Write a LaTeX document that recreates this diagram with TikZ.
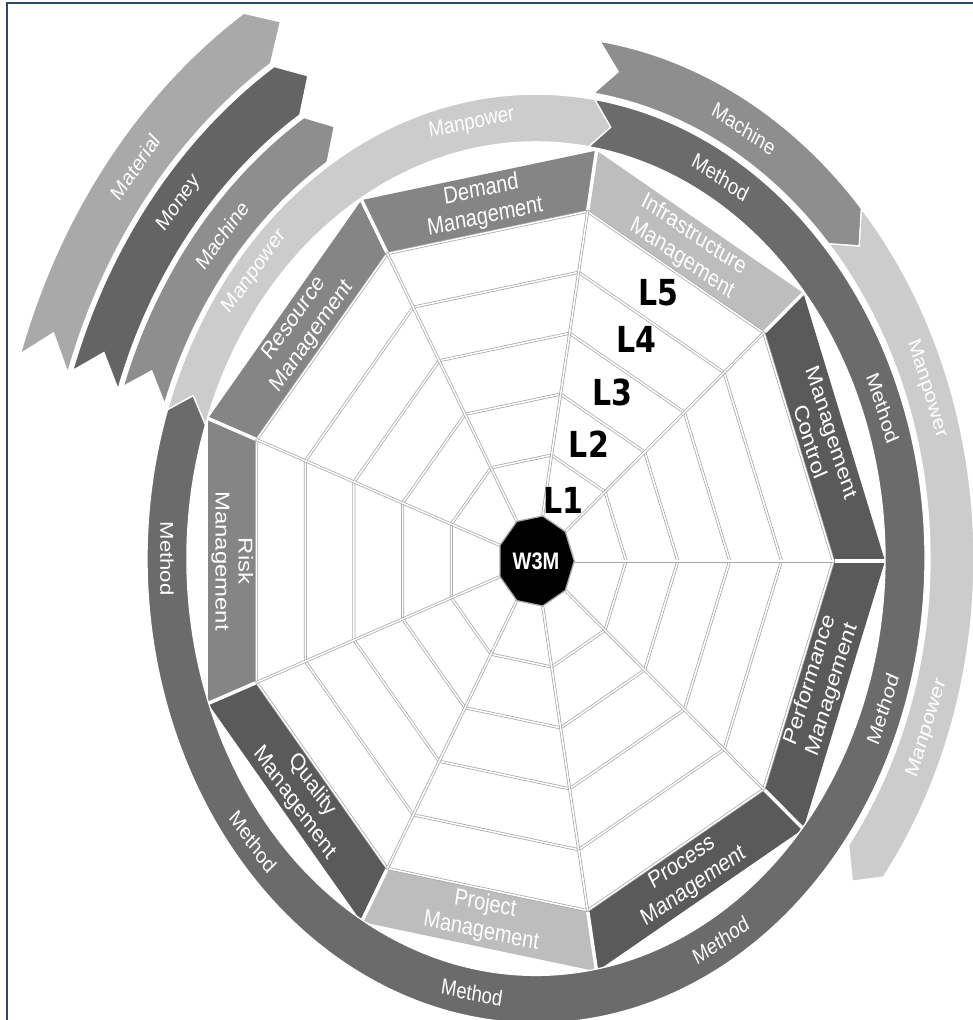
\documentclass[tikz,border=0pt]{standalone}
\usepackage{fontspec}
\setmainfont{Liberation Sans}
\newfontfamily\levelfont{DejaVu Sans}
\definecolor{cMaterial}{HTML}{A9A9A9}
\definecolor{cMoney}{HTML}{646464}
\definecolor{cMachine}{HTML}{8E8E8E}
\definecolor{cManpower}{HTML}{CCCCCC}
\definecolor{cMethod}{HTML}{6B6B6B}
\definecolor{cMid}{HTML}{858585}
\definecolor{cDark}{HTML}{5A5A5A}
\definecolor{cLight}{HTML}{BDBDBD}
\definecolor{cWeb}{HTML}{A8A8A8}
\definecolor{cFrame}{HTML}{2E4A6B}

% curved chevron band: fill, inner radius, outer radius, tail angle, head angle, point depth
\newcommand\chevband[6]{%
  \fill[#1, draw=white, line width=1.3pt, line join=miter]
    (#4:#3) arc[start angle=#4, end angle=#5, radius=#3]
    -- ({#5-#6}:{(#2+#3)/2}) -- (#5:#2)
    arc[start angle=#5, end angle=#4, radius=#2]
    -- ({#4-#6}:{(#2+#3)/2}) -- cycle;}

\tikzset{
  web/.style={draw=cWeb, line width=0.75pt, double=white, double distance=1.5pt, line join=miter},
  bandlabel/.style={text=white, align=center, transform shape,
    font=\fontsize{20}{23}\selectfont, inner sep=0pt},
  ringlabel/.style={text=white, transform shape,
    font=\fontsize{18.5}{20}\selectfont, inner sep=0pt},
  levellabel/.style={text=black, transform shape,
    font=\levelfont\bfseries\fontsize{30}{32}\selectfont, inner sep=0pt},
}

\begin{document}
\begin{tikzpicture}[x=1pt, y=1pt]
\path[use as bounding box, fill=white] (-536pt,-459pt) rectangle (437pt,561pt);
% frame
\draw[cFrame, line width=2pt] (-529pt,-459pt) -- (-529pt,557.5pt) -- (437pt,557.5pt);

\begin{scope}[yscale=1.194]
  % label bands of the nine sectors
  \foreach \a/\col in {0/cDark, 40/cLight, 80/cMid, 120/cMid, 160/cMid,
                        200/cDark, 240/cLight, 280/cDark, 320/cDark} {
    \fill[\col] (\a:349) -- ({\a+40}:349) -- ({\a+40}:297.3) -- (\a:297.3) -- cycle;
  }
  % web rings and spokes
  \foreach \r in {90.1,141.9,193.7,245.5,297.3} {
    \draw[web] (0:\r) \foreach \a in {40,80,...,320} { -- (\a:\r) } -- cycle;
  }
  \foreach \a in {0,40,...,320} {
    \draw[web] (\a:38.3) -- (\a:297.3);
    \draw[white, line width=3.5pt] (\a:298.5) -- (\a:349);
  }
  % centre
  \fill[black, draw=cWeb, line width=1.3pt] (0:38.3) \foreach \a in {40,80,...,320} { -- (\a:38.3) } -- cycle;
  \node[text=white, transform shape, font=\bfseries\fontsize{20}{22}\selectfont] (core) at (0,0) {W3M};

  % sector names
  \node[bandlabel, rotate=-70] (mc)   at (20:303.7)  {Management\\Control};
  \node[bandlabel, rotate=-30] (infra) at (60:303.7) {Infrastructure\\Management};
  \node[bandlabel, rotate=10]  (dem)  at (100:303.7) {Demand\\Management};
  \node[bandlabel, rotate=50]  (res)  at (140:303.7) {Resource\\Management};
  \node[bandlabel, rotate=-90] (risk) at (180:303.7) {Risk\\Management};
  \node[bandlabel, rotate=-50] (qual) at (220:303.7) {Quality\\Management};
  \node[bandlabel, rotate=-10] (proj) at (260:303.7) {Project\\Management};
  \node[bandlabel, rotate=30]  (proc) at (300:303.7) {Process\\Management};
  \node[bandlabel, rotate=70]  (perf) at (340:303.7) {Performance\\Management};

  % level marks
  \node[levellabel] (l1) at (61.5:58)  {L1};
  \node[levellabel] (l2) at (61.5:111) {L2};
  \node[levellabel] (l3) at (61.5:161) {L3};
  \node[levellabel] (l4) at (61.5:211) {L4};
  \node[levellabel] (l5) at (61.5:256) {L5};

  % resource arrows, upper left stack
  \chevband{cMaterial}{494}{544}{161.4}{122.5}{3}
  \chevband{cMoney}{442}{490}{161}{122.3}{3}
  \chevband{cMachine}{394}{438}{160.5}{122}{3}

  \begin{scope}[shift={(0,2)}]
    % outer ring, right
    \chevband{cMachine}{394}{438}{81.6}{42}{3}
    \chevband{cManpower}{394}{438}{42}{-37.5}{3}
    % inner ring
    \chevband{cManpower}{349}{389}{161.3}{81.3}{3}
    \chevband{cMethod}{349}{389}{81.3}{-198.7}{3}

    % ring texts
    \node[ringlabel, rotate=49.5] (tmpl) at (139.5:370) {Manpower};
    \node[ringlabel, rotate=10]   (tmpt) at (100:370) {Manpower};
    \node[ringlabel, rotate=-30]  (tmar) at (60:416) {Machine};
    \node[ringlabel, rotate=-30]  (tme1) at (60:369) {Method};
    \node[ringlabel, rotate=-70]  (tme2) at (20:369) {Method};
    \node[ringlabel, rotate=-70]  (tmr1) at (20:416) {Manpower};
    \node[ringlabel, rotate=70]   (tme3) at (-20:369) {Method};
    \node[ringlabel, rotate=70]   (tmr2) at (-20:416) {Manpower};
    \node[ringlabel, rotate=30]   (tme4) at (-60:369) {Method};
    \node[ringlabel, rotate=-10]  (tme5) at (-100:369) {Method};
    \node[ringlabel, rotate=-50]  (tme6) at (-140:369) {Method};
    \node[ringlabel, rotate=-90]  (tme7) at (180:369) {Method};
  \end{scope}

  \node[ringlabel, rotate=50.5] (tmat) at (140.5:519) {Material};
  \node[ringlabel, rotate=50]   (tmon) at (140:466) {Money};
  \node[ringlabel, rotate=49]   (tmal) at (139:416) {Machine};
\end{scope}
\end{tikzpicture}
\end{document}
